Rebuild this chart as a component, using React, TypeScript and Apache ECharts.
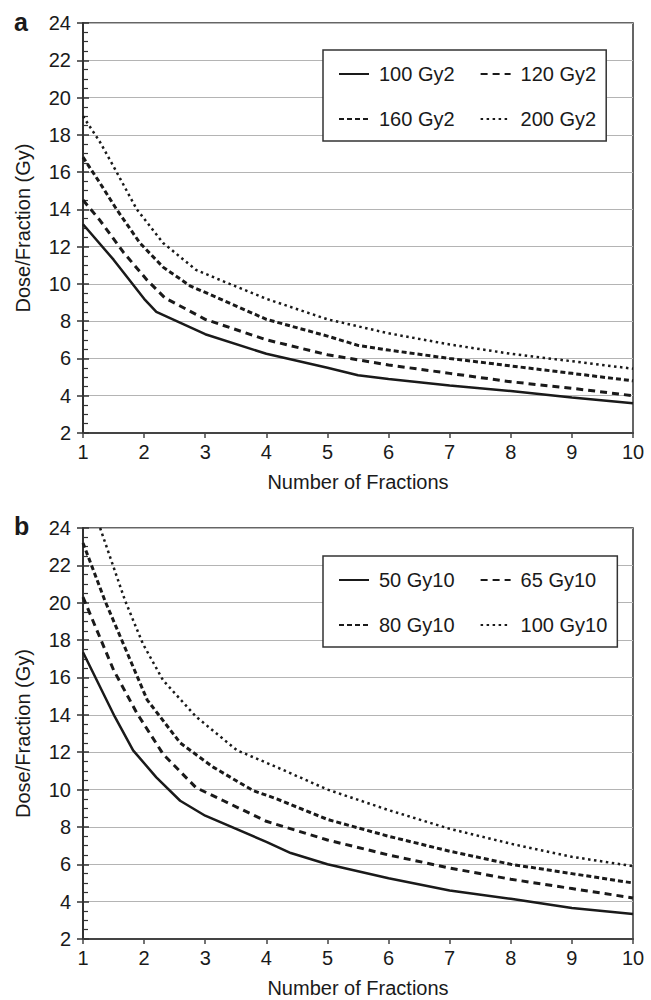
import React, { useEffect, useRef } from "react";
import * as echarts from "echarts";

// Panel a (alpha/beta = 2)
const namesA = ["100 Gy2", "120 Gy2", "160 Gy2", "200 Gy2"];
const a100 = [[1, 13.2], [1.5, 11.3], [2, 9.2], [2.2, 8.5], [3, 7.3], [4, 6.25], [5, 5.5], [5.5, 5.1], [6, 4.9], [7, 4.55], [8, 4.25], [9, 3.9], [10, 3.6]];
const a120 = [[1, 14.5], [1.28, 13.4], [1.66, 11.7], [2.05, 10.2], [2.34, 9.25], [3, 8.1], [4, 7.0], [5, 6.2], [6, 5.65], [7, 5.2], [8, 4.75], [9, 4.4], [10, 4.0]];
const a160 = [[1, 16.8], [1.28, 15.4], [1.55, 14.0], [1.93, 12.2], [2.31, 10.9], [2.75, 9.9], [3.24, 9.2], [4, 8.1], [5, 7.2], [5.5, 6.7], [6, 6.45], [7, 6.0], [8, 5.6], [9, 5.2], [10, 4.8]];
const a200 = [[1, 19.0], [1.28, 17.6], [1.55, 16.0], [1.88, 14.0], [2.31, 12.2], [2.85, 10.75], [3.4, 10.0], [4, 9.2], [5, 8.1], [6, 7.35], [7, 6.75], [8, 6.25], [9, 5.85], [10, 5.45]];

// Panel b (alpha/beta = 10)
const namesB = ["50 Gy10", "65 Gy10", "80 Gy10", "100 Gy10"];
const b50 = [[1, 17.35], [1.52, 13.9], [1.82, 12.1], [2.2, 10.65], [2.59, 9.4], [3, 8.6], [4, 7.2], [4.4, 6.6], [5, 6.0], [6, 5.25], [7, 4.6], [8, 4.15], [9, 3.66], [10, 3.34]];
const b65 = [[1, 20.3], [1.5, 16.4], [1.88, 14.1], [2.31, 11.9], [2.85, 10.1], [3.3, 9.4], [4, 8.3], [5, 7.3], [6, 6.5], [7, 5.8], [8, 5.2], [9, 4.7], [10, 4.2]];
const b80 = [[1, 23.2], [1.36, 20.1], [1.66, 17.8], [2.05, 14.8], [2.59, 12.5], [3.13, 11.2], [3.78, 9.95], [4.17, 9.5], [5, 8.4], [6, 7.5], [7, 6.7], [8, 6.0], [9, 5.5], [10, 5.0]];
const b100 = [[1.28, 24], [1.69, 20.1], [1.98, 17.8], [2.31, 15.85], [2.85, 13.9], [3.52, 12.1], [4.17, 11.2], [5, 10.0], [6, 8.9], [7, 7.9], [8, 7.1], [9, 6.4], [10, 5.9]];

const panelLetters = ["a", "b"];
const xTitle = "Number of Fractions";
const yTitle = "Dose/Fraction (Gy)";

const FONT = "Liberation Sans, Arial, Helvetica, sans-serif";
const INK = "#1a1a1a";
const styles = [
  { type: "solid" as any, width: 2.5 },
  { type: [7, 5], width: 3 },
  { type: [5, 3], width: 3 },
  { type: [2.5, 3.5], width: 2.5 },
];

export default function App() {
  const ref = useRef<HTMLDivElement>(null);
  useEffect(() => {
    document.body.style.margin = "0";
    const chart = echarts.init(ref.current!, undefined, { renderer: "svg" });
    const grids = [
      { left: 83, top: 23, width: 550, height: 410 },
      { left: 83, top: 528, width: 550, height: 411 },
    ];
    const xAxes: any[] = [];
    const yAxes: any[] = [];
    grids.forEach((g, i) => {
      xAxes.push({
        type: "value", gridIndex: i, min: 1, max: 10, interval: 1,
        name: xTitle, nameLocation: "middle", nameGap: 39,
        nameTextStyle: { fontFamily: FONT, fontSize: 20, color: INK },
        axisLine: { lineStyle: { color: "#444", width: 2 } },
        axisTick: { show: true, length: 5, lineStyle: { color: "#444", width: 1.5 } },
        axisLabel: { fontFamily: FONT, fontSize: 20, color: INK, margin: 9 },
        splitLine: { show: false },
      });
      yAxes.push({
        type: "value", gridIndex: i, min: 2, max: 24, interval: 2,
        name: yTitle, nameLocation: "middle", nameGap: 50,
        nameTextStyle: { fontFamily: FONT, fontSize: 20, color: INK },
        axisLine: { show: true, lineStyle: { color: "#333", width: 2 } },
        axisTick: { show: true, length: 6, lineStyle: { color: "#333", width: 1.5 } },
        axisLabel: { fontFamily: FONT, fontSize: 20, color: INK, margin: 12 },
        splitLine: { show: true, lineStyle: { color: "#b4b4b4", width: 1.2 } },
      });
      yAxes.push({
        type: "value", gridIndex: i, min: 2, max: 24, interval: 2, position: "left",
        axisLine: { show: false },
        axisTick: { show: true, inside: true, length: 6, lineStyle: { color: "#333", width: 1.5 } },
        minorTick: { show: true, splitNumber: 4, length: 5, lineStyle: { color: "#333", width: 1.2 } },
        axisLabel: { show: false },
        splitLine: { show: false },
      });
    });
    const mk = (names: string[], data: number[][][], gi: number) =>
      data.map((d, k) => ({
        type: "line", name: names[k], data: d, xAxisIndex: gi, yAxisIndex: gi * 2,
        symbol: "none", smooth: false, clip: true,
        lineStyle: { color: INK, width: styles[k].width, type: styles[k].type, cap: "butt" },
        itemStyle: { color: INK },
      }));
    const legendBase = {
      left: 323, orient: "horizontal", width: 300,
      padding: [14, 10, 12, 15], itemGap: 25, itemWidth: 30, itemHeight: 14,
      borderColor: "#333", borderWidth: 1.5, backgroundColor: "#fff",
      selectedMode: false,
      itemStyle: { color: "rgba(0,0,0,0)", borderWidth: 0, opacity: 0 },
      lineStyle: { color: INK, opacity: 1 },
      textStyle: { fontFamily: FONT, fontSize: 20, color: INK, lineHeight: 20, padding: [0, 0, 0, 5] },
    };
    chart.setOption({
      animation: false,
      backgroundColor: "#fff",
      grid: grids.map((g) => ({ ...g, show: true, borderColor: "#333", borderWidth: 1.5, backgroundColor: "transparent" })),
      xAxis: xAxes,
      yAxis: yAxes,
      legend: [
        { ...legendBase, top: 50, data: namesA },
        { ...legendBase, top: 556, data: namesB },
      ],
      series: [...mk(namesA, [a100, a120, a160, a200], 0), ...mk(namesB, [b50, b65, b80, b100], 1)],
      graphic: [
        { type: "text", left: 14, top: 9, style: { text: panelLetters[0], font: `bold 25px ${FONT}`, fill: INK } },
        { type: "text", left: 14, top: 513, style: { text: panelLetters[1], font: `bold 25px ${FONT}`, fill: INK } },
      ],
    });
    return () => chart.dispose();
  }, []);
  return <div ref={ref} style={{ width: 651, height: 1000 }} />;
}
